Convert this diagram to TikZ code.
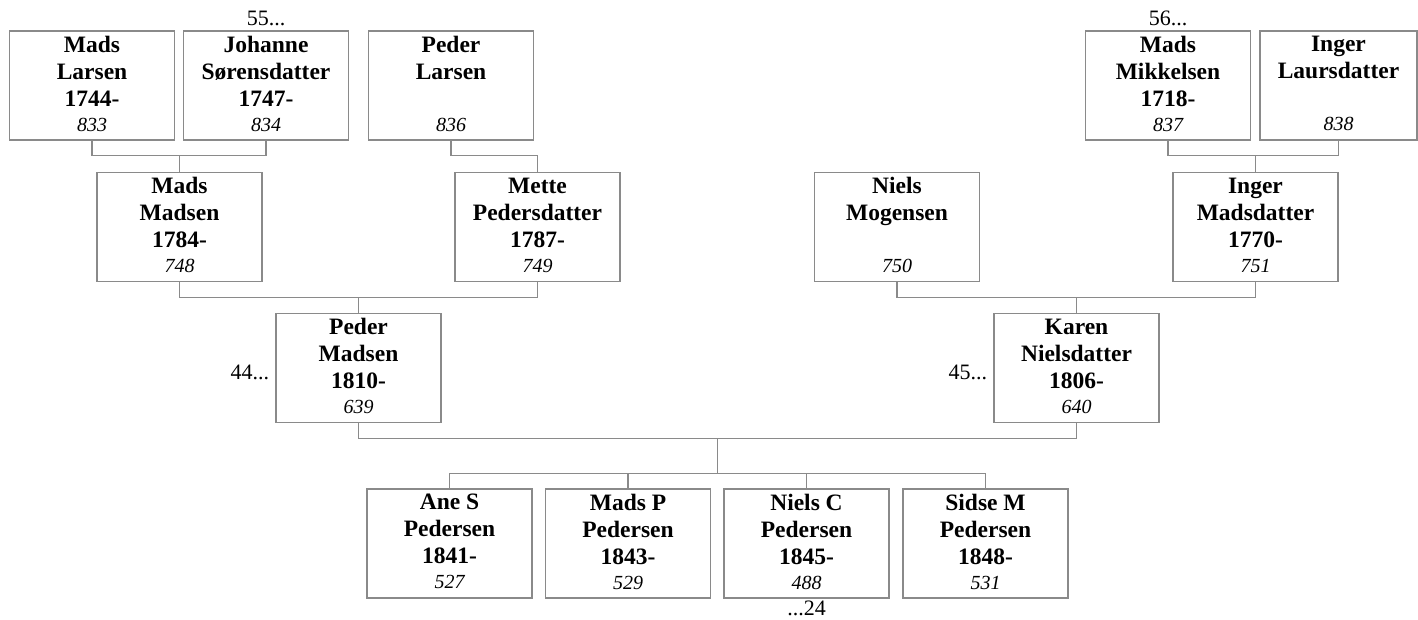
\documentclass[tikz,border=0pt]{standalone}
\usepackage{fontspec}
\setmainfont{Liberation Serif}
\usetikzlibrary{positioning, calc}
\definecolor{linegray}{HTML}{8A8A8A}
\newcommand{\refnum}[1]{{\fontsize{20}{24}\selectfont\mdseries\itshape #1\rule[-4pt]{0pt}{0pt}}}

\begin{document}
\begin{tikzpicture}[
    x=1pt, y=-1pt,
    person/.style={
        draw=linegray, line width=1.3pt, rectangle,
        minimum width=165pt, minimum height=109pt, inner sep=0pt, align=center,
        font=\fontsize{23.5}{27}\selectfont\bfseries,
    },
    link/.style={draw=linegray, line width=1.3pt},
    more/.style={font=\fontsize{22}{26}\selectfont, inner sep=0pt},
]
\useasboundingbox (0,0) rectangle (1418,619);

% ===== Row 1: great-grandparents =====
\node[person] (madslarsen)    at (92, 85.5)   {Mads \\ Larsen \\ 1744- \\[-2pt] \refnum{833}};
\node[person] (johanne)       at (266, 85.5)  {Johanne \\ Sørensdatter \\ 1747- \\[-2pt] \refnum{834}};
\node[person] (pederlarsen)   at (451, 85.5)  {Peder \\ Larsen \\ \mbox{} \\[-2pt] \refnum{836}};
\node[person] (madsmikkelsen) at (1168, 85.5) {Mads \\ Mikkelsen \\ 1718- \\[-2pt] \refnum{837}};
\node[person, minimum width=157pt] (ingerlaurs) at (1338.5, 85.5) {Inger \\ Laursdatter \\ \mbox{} \\[-2pt] \refnum{838}};

% ===== Row 2: grandparents =====
\node[person] (madsmadsen)    at (179.5, 227)  {Mads \\ Madsen \\ 1784- \\[-2pt] \refnum{748}};
\node[person] (mette)         at (537.5, 227)  {Mette \\ Pedersdatter \\ 1787- \\[-2pt] \refnum{749}};
\node[person] (nielsmogensen) at (897, 227)    {Niels \\ Mogensen \\ \mbox{} \\[-2pt] \refnum{750}};
\node[person] (ingermads)     at (1255.5, 227) {Inger \\ Madsdatter \\ 1770- \\[-2pt] \refnum{751}};

% ===== Row 3: parents =====
\node[person] (pedermadsen) at (358.5, 368)  {Peder \\ Madsen \\ 1810- \\[-2pt] \refnum{639}};
\node[person] (karen)       at (1076.5, 368) {Karen \\ Nielsdatter \\ 1806- \\[-2pt] \refnum{640}};

% ===== Row 4: children =====
\node[person] (anes)   at (449.5, 543.5) {Ane S \\ Pedersen \\ 1841- \\[-2pt] \refnum{527}};
\node[person] (madsp)  at (628, 543.5)   {Mads P \\ Pedersen \\ 1843- \\[-2pt] \refnum{529}};
\node[person] (nielsc) at (806.5, 543.5) {Niels C \\ Pedersen \\ 1845- \\[-2pt] \refnum{488}};
\node[person] (sidsem) at (985.5, 543.5) {Sidse M \\ Pedersen \\ 1848- \\[-2pt] \refnum{531}};

% --- continuation marks ---
\node[more, above=4pt of johanne]       (more55) {55...};
\node[more, above=4pt of madsmikkelsen] (more56) {56...};
\node[more, left=6pt of pedermadsen, yshift=-4pt] (more44) {44...};
\node[more, left=6pt of karen, yshift=-4pt]       (more45) {45...};
\node[more, below=2.5pt of nielsc]      (more24) {...24};

% ===== Lines =====
% Row 1 -> Row 2
\draw[link] (madslarsen.south) -- ++(0,15) coordinate (j1) -| (johanne.south);
\draw[link] (madsmadsen.north) -- (madsmadsen.north |- j1);
\draw[link] (pederlarsen.south) -- ++(0,15) -| (mette.north);
\draw[link] (madsmikkelsen.south) -- ++(0,15) coordinate (j2) -| (ingerlaurs.south);
\draw[link] (ingermads.north) -- (ingermads.north |- j2);

% Row 2 -> Row 3
\draw[link] (madsmadsen.south) -- ++(0,15) coordinate (j3) -| (mette.south);
\draw[link] (pedermadsen.north) -- (pedermadsen.north |- j3);
\draw[link] (nielsmogensen.south) -- ++(0,15) coordinate (j4) -| (ingermads.south);
\draw[link] (karen.north) -- (karen.north |- j4);

% Row 3 -> children
\draw[link] (pedermadsen.south) -- ++(0,15) coordinate (j5) -| (karen.south);
\coordinate (kids) at ($(pedermadsen.south)!0.5!(karen.south)+(0,50)$);
\draw[link] (kids) -- (kids |- j5);
\draw[link] (anes.north) |- (kids) -| (sidsem.north);
\draw[link] (madsp.north) -- (madsp.north |- kids);
\draw[link] (nielsc.north) -- (nielsc.north |- kids);

\end{tikzpicture}
\end{document}
